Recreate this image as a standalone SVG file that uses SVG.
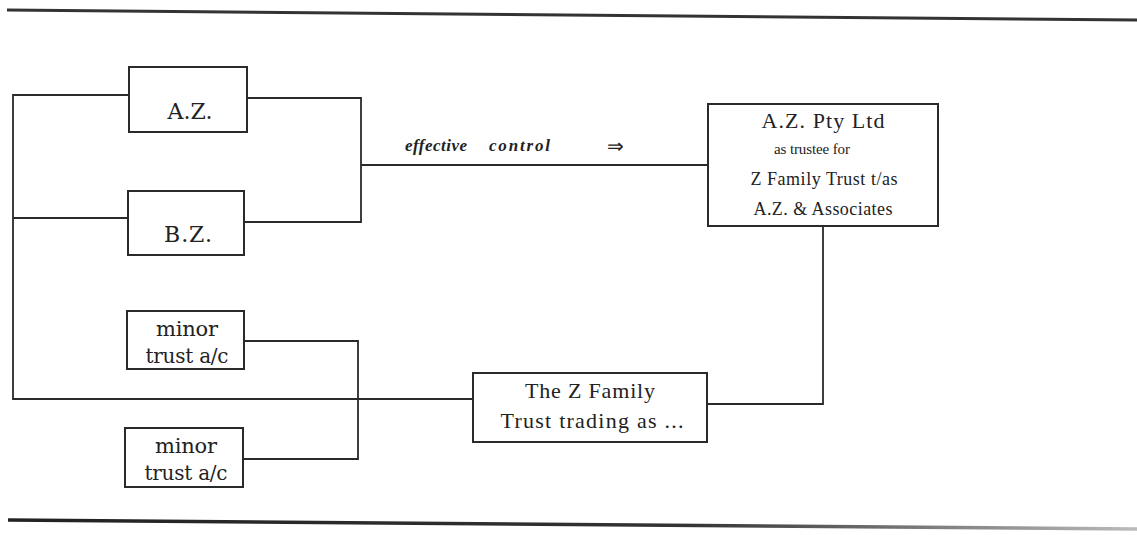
<svg xmlns="http://www.w3.org/2000/svg" width="1137" height="535" viewBox="0 0 1137 535">
<style>
.box{fill:#fff;stroke:#2a2a2a;stroke-width:2}
.ln{fill:none;stroke:#2a2a2a;stroke-width:1.8}
.t{font-family:"DejaVu Serif","Liberation Serif",serif;fill:#222;text-anchor:middle}
.s{font-family:"Liberation Serif",serif;fill:#222;text-anchor:middle}
.i{font-family:"Liberation Serif",serif;font-style:italic;font-weight:bold;fill:#222;font-size:17px}
</style>
<defs>
<linearGradient id="fade" x1="0" y1="0" x2="1" y2="0">
<stop offset="0" stop-color="#222"/>
<stop offset="0.6" stop-color="#333"/>
<stop offset="1" stop-color="#bbb"/>
</linearGradient>
</defs>
<rect width="1137" height="535" fill="#fff"/>
<line x1="7" y1="10" x2="1137" y2="20" stroke="#333" stroke-width="3"/>
<line x1="8" y1="520" x2="1137" y2="529" stroke="url(#fade)" stroke-width="3.5"/>
<g id="connectors">
<polyline class="ln" points="129,95 13,95 13,399 473,399"/>
<line class="ln" x1="13" y1="218" x2="128" y2="218"/>
<polyline class="ln" points="247,98 361,98 361,222 244,222"/>
<line class="ln" x1="361" y1="165" x2="708" y2="165"/>
<polyline class="ln" points="823,226 823,404 707,404"/>
<polyline class="ln" points="244,341 358,341 358,459 243,459"/>
<text class="i" x="405" y="151" textLength="62">effective</text>
<text class="i" x="489" y="151" textLength="61">control</text>
<text class="s" x="615" y="153" font-size="20">⇒</text>
</g>
<g id="az">
<rect class="box" x="129" y="67" width="118" height="65"/>
<text class="t" x="190" y="119" font-size="22" textLength="45">A.Z.</text>
</g>
<g id="bz">
<rect class="box" x="128" y="191" width="116" height="64"/>
<text class="t" x="188" y="242" font-size="22" textLength="48">B.Z.</text>
</g>
<g id="minor1">
<rect class="box" x="127" y="311" width="117" height="58"/>
<text class="t" x="187" y="336" font-size="21" textLength="62">minor</text>
<text class="t" x="187" y="363" font-size="20" textLength="83">trust a/c</text>
</g>
<g id="minor2">
<rect class="box" x="125" y="428" width="118" height="59"/>
<text class="t" x="186" y="453" font-size="21" textLength="62">minor</text>
<text class="t" x="186" y="480" font-size="20" textLength="83">trust a/c</text>
</g>
<g id="azpty">
<rect class="box" x="708" y="104" width="230" height="122"/>
<text class="s" x="823" y="128" font-size="22" textLength="123">A.Z. Pty Ltd</text>
<text class="s" x="812" y="154" font-size="15" textLength="76">as trustee for</text>
<text class="s" x="824" y="185" font-size="18" textLength="147">Z Family Trust t/as</text>
<text class="s" x="823" y="215" font-size="18" textLength="139">A.Z. &amp; Associates</text>
</g>
<g id="zfamily">
<rect class="box" x="473" y="373" width="234" height="69"/>
<text class="s" x="590" y="398" font-size="22" textLength="130">The Z Family</text>
<text class="s" x="592" y="428" font-size="22" textLength="183">Trust trading as ...</text>
</g>
</svg>
